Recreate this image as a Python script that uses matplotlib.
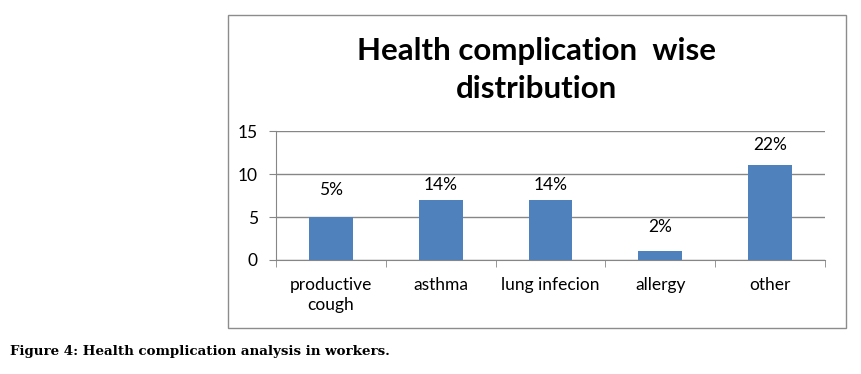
import matplotlib.pyplot as plt
from matplotlib.patches import Rectangle

categories = ["productive\ncough", "asthma", "lung infecion", "allergy", "other"]
values = [5, 7, 7, 1, 11]
pct_labels = ["5%", "14%", "14%", "2%", "22%"]
label_offsets = [14, 5, 5, 12, 9]  # points above bar top, as in the original
y_ticks = [0, 5, 10, 15]

W, H = 862, 374
fig = plt.figure(figsize=(W / 100, H / 100), dpi=100)

# outer chart box
fig.patches.append(Rectangle((228 / W, 1 - 328 / H), (846 - 228) / W, (328 - 15) / H,
                             transform=fig.transFigure, fill=False, edgecolor='#8c8c8c', lw=1))

ax = fig.add_axes([276 / W, 1 - 260 / H, (825 - 276) / W, (260 - 131) / H])
x = range(len(categories))
ax.bar(x, values, width=0.4, color='#4f81bd', zorder=3)
for i, (v, lab) in enumerate(zip(values, pct_labels)):
    ax.annotate(lab, (i, v), xytext=(0, label_offsets[i]), textcoords='offset points',
                ha='center', va='bottom', fontsize=12.5, family='Lato')

ax.set_xlim(-0.5, len(categories) - 0.5)
ax.set_ylim(0, 15)
ax.set_yticks(y_ticks)
ax.set_yticklabels([str(t) for t in y_ticks], fontsize=12.5, family='Lato')
ax.yaxis.grid(True, color='#868686', lw=1, zorder=0)
ax.set_xticks(list(x))
ax.set_xticklabels(categories, fontsize=12.5, family='Lato', linespacing=1.3)
ax.tick_params(axis='x', length=0, pad=12)
ax.set_xticks([i + 0.5 for i in range(-1, len(categories))], minor=True)
ax.tick_params(axis='x', which='minor', length=5, color='#868686', direction='out')
ax.tick_params(axis='y', length=5, color='#868686', pad=8)
for s in ['top', 'right']:
    ax.spines[s].set_visible(False)
ax.spines['left'].set_color('#868686')
ax.spines['bottom'].set_color('#868686')

fig.text(537 / W, 1 - 70 / H, "Health complication  wise\ndistribution", ha='center', va='center',
         fontsize=22.5, fontweight='bold', family='Lato', linespacing=1.42)

fig.text(10 / W, 1 - 352 / H, "Figure 4: Health complication analysis in workers.",
         ha='left', va='center', fontsize=9.6, fontweight='bold', family='DejaVu Serif')

plt.savefig('out.png', dpi=100)
plt.close()
